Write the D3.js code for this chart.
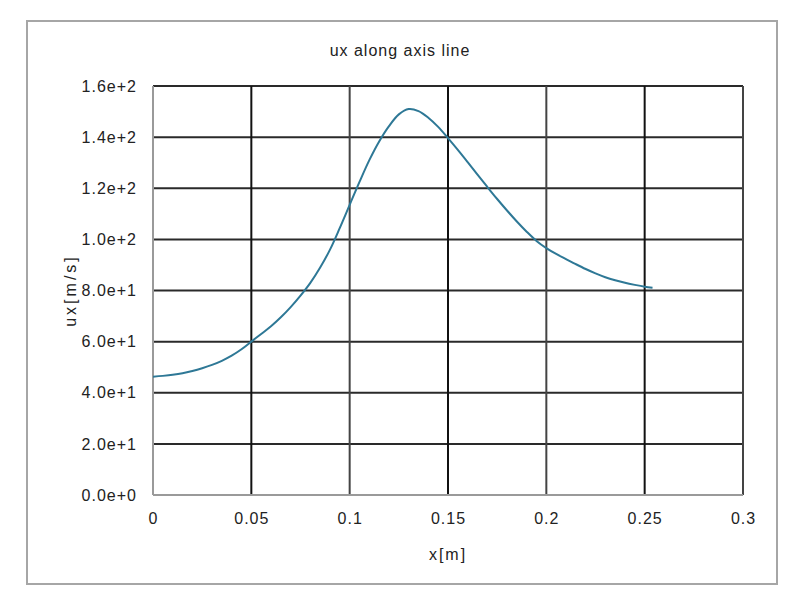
<!DOCTYPE html>
<html>
<head>
<meta charset="utf-8">
<script src="https://cdn.jsdelivr.net/npm/d3@7"></script>
<style>
  body { margin: 0; background: #fff; }
  text { font-family: "Liberation Sans", Arial, sans-serif; fill: #222; }
</style>
</head>
<body>
<div id="chart"></div>
<script>
// x positions along the axis [m]
var xs = [0, 0.005, 0.01, 0.015, 0.02, 0.025, 0.03, 0.035, 0.04, 0.045,
          0.05, 0.055, 0.06, 0.065, 0.07, 0.075, 0.08, 0.085, 0.09, 0.095,
          0.1, 0.105, 0.11, 0.115, 0.12, 0.125, 0.13, 0.135, 0.14, 0.145,
          0.15, 0.155, 0.16, 0.165, 0.17, 0.175, 0.18, 0.185, 0.19, 0.195,
          0.2, 0.205, 0.21, 0.215, 0.22, 0.225, 0.23, 0.235, 0.24, 0.245,
          0.25, 0.254];
// ux [m/s]
var ux = [46.3, 46.6, 47, 47.6, 48.5, 49.6, 50.9, 52.5, 54.5, 57,
          60, 63, 66, 69.5, 73.5, 78, 83, 89, 96, 104.5,
          113.5, 122.5, 131, 138.3, 144.3, 148.9, 151, 150.2, 147.6, 144,
          139.6, 135, 130.2, 125.3, 120.5, 115.8, 111.3, 107, 103, 99.4,
          96.6, 94.3, 92.3, 90.3, 88.4, 86.7, 85.2, 84, 83, 82.2,
          81.5, 81.1];
var xTicks = [0, 0.05, 0.1, 0.15, 0.2, 0.25, 0.3];
var yTicks = [0, 20, 40, 60, 80, 100, 120, 140, 160];
var yTickLabels = ["0.0e+0", "2.0e+1", "4.0e+1", "6.0e+1", "8.0e+1", "1.0e+2", "1.2e+2", "1.4e+2", "1.6e+2"];

(function(){
    var W = 800, H = 604;
    var m = {left: 153, right: 743, top: 86, bottom: 495};

    var svg = d3.select("#chart").append("svg")
        .attr("width", W).attr("height", H);

    // outer frame
    svg.append("rect")
        .attr("x", 27).attr("y", 21)
        .attr("width", 750).attr("height", 563)
        .attr("fill", "#fff")
        .attr("stroke", "#a6a6a6")
        .attr("stroke-width", 2);

    var x = d3.scaleLinear().domain([0, 0.3]).range([m.left, m.right]);
    var y = d3.scaleLinear().domain([0, 160]).range([m.bottom, m.top]);

    // grid lines
    svg.append("g").selectAll("line")
        .data(yTicks.slice(1))
        .enter().append("line")
        .attr("x1", m.left).attr("x2", m.right)
        .attr("y1", function(d) { return y(d); })
        .attr("y2", function(d) { return y(d); })
        .attr("stroke", "#2a2a2a")
        .attr("stroke-width", 2);

    svg.append("g").selectAll("line")
        .data(xTicks.slice(1))
        .enter().append("line")
        .attr("y1", m.top).attr("y2", m.bottom)
        .attr("x1", function(d) { return x(d); })
        .attr("x2", function(d) { return x(d); })
        .attr("stroke", function(d, i) { return i % 2 == 0 ? "#111" : "#444"; })
        .attr("stroke-width", 2);

    // axis lines (lighter)
    svg.append("line")
        .attr("x1", m.left).attr("x2", m.left).attr("y1", m.top).attr("y2", m.bottom)
        .attr("stroke", "#9a9a9a").attr("stroke-width", 2);
    svg.append("line")
        .attr("x1", m.left).attr("x2", m.right).attr("y1", m.bottom).attr("y2", m.bottom)
        .attr("stroke", "#9a9a9a").attr("stroke-width", 2);

    // tick labels
    var xAxis = d3.axisBottom(x).tickValues(xTicks).tickSize(0).tickPadding(18)
        .tickFormat(function(d) { return d === 0 ? "0" : String(+d.toFixed(2)); });
    var gx = svg.append("g").attr("transform", "translate(0," + m.bottom + ")").call(xAxis);
    gx.select(".domain").remove();
    gx.selectAll("text").style("font-size", "16px").style("letter-spacing", "1px")
        .attr("fill", "#222")
        .style("font-family", "Liberation Sans, Arial, sans-serif");

    var yAxis = d3.axisLeft(y).tickValues(yTicks).tickSize(0).tickPadding(16)
        .tickFormat(function(d, i) { return yTickLabels[i]; });
    var gy = svg.append("g").attr("transform", "translate(" + m.left + ",0)").call(yAxis);
    gy.select(".domain").remove();
    gy.selectAll("text").style("font-size", "16px").style("letter-spacing", "1px")
        .attr("fill", "#222")
        .style("font-family", "Liberation Sans, Arial, sans-serif");

    // the curve
    var pts = xs.map(function(d, i) { return [d, ux[i]]; });
    var line = d3.line()
        .x(function(d) { return x(d[0]); })
        .y(function(d) { return y(d[1]); })
        .curve(d3.curveCatmullRom);
    svg.append("path")
        .datum(pts)
        .attr("d", line)
        .attr("fill", "none")
        .attr("stroke", "#2e7896")
        .attr("stroke-width", 2);

    // titles
    svg.append("text")
        .attr("x", 400).attr("y", 56)
        .attr("text-anchor", "middle")
        .style("font-size", "16px")
        .style("letter-spacing", "1px")
        .text("ux along axis line");

    svg.append("text")
        .attr("x", (m.left + m.right) / 2).attr("y", 560)
        .attr("text-anchor", "middle")
        .style("font-size", "16px")
        .style("letter-spacing", "2px")
        .text("x[m]");

    svg.append("text")
        .attr("transform", "translate(76," + ((m.top + m.bottom) / 2) + ") rotate(-90)")
        .attr("text-anchor", "middle")
        .style("font-size", "16px")
        .style("letter-spacing", "3px")
        .text("ux[m/s]");
})();
</script>
</body>
</html>
